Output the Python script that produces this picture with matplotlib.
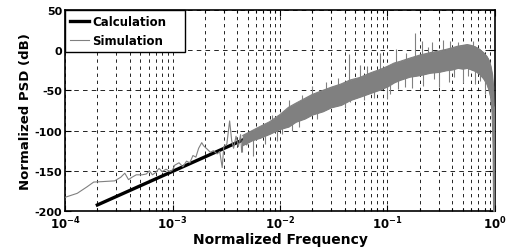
import numpy as np
import matplotlib
matplotlib.use('Agg')
import matplotlib.pyplot as plt
from matplotlib.ticker import FixedLocator, FixedFormatter, LogLocator, NullFormatter

plt.rcParams['font.family'] = 'DejaVu Sans'
plt.rcParams['font.weight'] = 'bold'
plt.rcParams['axes.unicode_minus'] = False

# calculation (straight line on log axis)
calc_f = [2e-4, 2e-2]
calc_db = [-192.5, -73.0]

# simulation, sparse low-frequency part
sim_f = [1.0e-4, 1.3e-4, 1.6e-4, 1.85e-4, 2.2e-4, 2.9e-4, 3.3e-4, 3.6e-4, 3.9e-4, 4.2e-4,
         4.6e-4, 5.2e-4, 5.7e-4, 6.1e-4, 6.5e-4, 7.0e-4, 7.5e-4, 8.0e-4, 8.7e-4, 9.5e-4,
         1.0e-3, 1.05e-3, 1.15e-3, 1.25e-3, 1.35e-3, 1.45e-3, 1.55e-3, 1.65e-3, 1.75e-3, 1.87e-3,
         1.95e-3, 2.1e-3, 2.25e-3, 2.4e-3, 2.6e-3, 2.75e-3, 2.9e-3, 3.0e-3, 3.2e-3, 3.4e-3,
         3.55e-3, 3.7e-3, 3.9e-3, 4.1e-3, 4.3e-3, 4.4e-3, 4.6e-3, 4.9e-3, 5.2e-3]
sim_db = [-183, -178, -170, -164, -163.5, -162.5, -158, -153, -161, -158,
          -155, -155, -154, -150, -155, -152, -147, -151, -148, -151,
          -149, -143, -140, -145, -138, -140, -131, -133, -122, -115,
          -119, -123, -127, -125, -129, -126, -146, -120, -117, -88,
          -112, -122, -107, -120, -105, -127, -109, -118, -110]

# simulation, dense part: envelope of the noise band
band_f = [0.0045, 0.0055, 0.0065, 0.008, 0.01, 0.012, 0.014, 0.017, 0.02, 0.025,
          0.03, 0.037, 0.045, 0.055, 0.07, 0.085, 0.1, 0.115, 0.13, 0.16,
          0.2, 0.25, 0.3, 0.35, 0.4, 0.45, 0.5, 0.55, 0.6, 0.66,
          0.72, 0.78, 0.84, 0.88, 0.91, 0.94, 0.96, 0.97]
band_hi = [-106, -100, -95, -89, -80, -71, -66, -60, -55, -50,
           -46, -42, -37, -34, -28, -24, -20, -16, -14, -10,
           -6, -3, -1, 1, 3, 5, 6, 7, 6, 4,
           1, -3, -8, -13, -20, -30, -45, -70]
band_lo = [-118, -112, -109, -104, -98, -95, -89, -85, -80, -76,
           -71, -68, -62, -58, -53, -49, -45, -40, -37, -33,
           -31, -28, -27, -25, -24, -22, -23, -22, -24, -26,
           -30, -35, -42, -50, -58, -78, -120, -200]

# isolated spikes sticking out of the band
spike_f = [0.0085, 0.0197, 0.044, 0.055, 0.085, 0.12, 0.18, 0.21, 0.26, 0.33,
           0.38, 0.012, 0.016, 0.027, 0.035, 0.065, 0.15, 0.24, 0.45, 0.62,
           0.0044, 0.0056, 0.0072, 0.0093, 0.013, 0.019, 0.0244, 0.0335, 0.045, 0.06,
           0.098, 0.106, 0.146, 0.17, 0.215, 0.3, 0.37, 0.5, 0.65, 0.8,
           0.0105, 0.015, 0.022, 0.04, 0.075, 0.125, 0.27, 0.42, 0.56, 0.72]
spike_db = [-80, -45, -5, -18, -3, 2, 22, 12, 10, 13,
            12, -62, -56, -40, -35, -20, -3, 4, 10, 11,
            -127, -131, -117, -113, -100, -75, -73, -69, -64, -62,
            -61, -54, -46, -47, -44, -46, -40, -41, -42, -55,
            -104, -96, -86, -72, -60, -48, -36, -33, -32, -38]

xticks = [1e-4, 1e-3, 1e-2, 1e-1, 1e0]
xlabels = [r'$\mathbf{10^{-4}}$', r'$\mathbf{10^{-3}}$', r'$\mathbf{10^{-2}}$',
           r'$\mathbf{10^{-1}}$', r'$\mathbf{10^{0}}$']
yticks = [-200, -150, -100, -50, 0, 50]

gray = '#808080'

fig = plt.figure(figsize=(5.1, 2.53), dpi=100)
ax = fig.add_axes([65/510, 41/253, 430/510, 201/253])

ax.plot(calc_f, calc_db, color='black', lw=2.4, label='Calculation', zorder=3)
ax.plot(sim_f, sim_db, color=gray, lw=0.8, label='Simulation', zorder=4)

ax.fill_between(band_f, band_lo, band_hi, color=gray, lw=0.8, zorder=4)
ax.plot(band_f, band_hi, color=gray, lw=0.8, zorder=4)
ax.plot(band_f, band_lo, color=gray, lw=0.8, zorder=4)
ax.vlines([0.97], -200, -70, color=gray, lw=0.9, zorder=4)

mid = np.interp(np.log10(spike_f), np.log10(band_f),
                (np.array(band_hi) + np.array(band_lo)) / 2)
ax.vlines(spike_f, mid, spike_db, color=gray, lw=0.8, zorder=4)

ax.set_xscale('log')
ax.set_xlim(1e-4, 1)
ax.set_ylim(-200, 50)

ax.xaxis.set_major_locator(FixedLocator(xticks))
ax.xaxis.set_major_formatter(FixedFormatter(xlabels))
ax.xaxis.set_minor_locator(LogLocator(base=10, subs=np.arange(2, 10)))
ax.xaxis.set_minor_formatter(NullFormatter())
ax.set_yticks(yticks)

ax.grid(True, which='both', axis='x', color='black', lw=0.6, linestyle=(0, (4, 4.5)))
ax.grid(True, which='major', axis='y', color='black', lw=0.6, linestyle=(0, (5.5, 5)))
ax.set_axisbelow(True)

ax.tick_params(which='both', direction='in', top=True, right=True, width=0.8)
ax.tick_params(which='major', length=4, pad=2)
ax.tick_params(which='minor', length=2.5)
ax.tick_params(axis='x', labelsize=8.5, pad=3)
ax.tick_params(axis='y', labelsize=8)
for s in ax.spines.values():
    s.set_linewidth(1.2)

ax.set_xlabel('Normalized Frequency', fontsize=10, fontweight='bold', labelpad=0)
ax.set_ylabel('Normalized PSD (dB)', fontsize=9.5, fontweight='bold', labelpad=2)

# matlab-style legend box, a bit wider than its text
leg = ax.legend(loc='upper left', bbox_to_anchor=(0, 0, 120/430, 1), mode='expand',
                borderaxespad=0, fancybox=False, framealpha=1,
                edgecolor='black', fontsize=8.5, handlelength=1.6, handletextpad=0.3,
                labelspacing=0.5, borderpad=0.42)
leg.get_frame().set_linewidth(1.0)

fig.savefig('out.png', dpi=100)
